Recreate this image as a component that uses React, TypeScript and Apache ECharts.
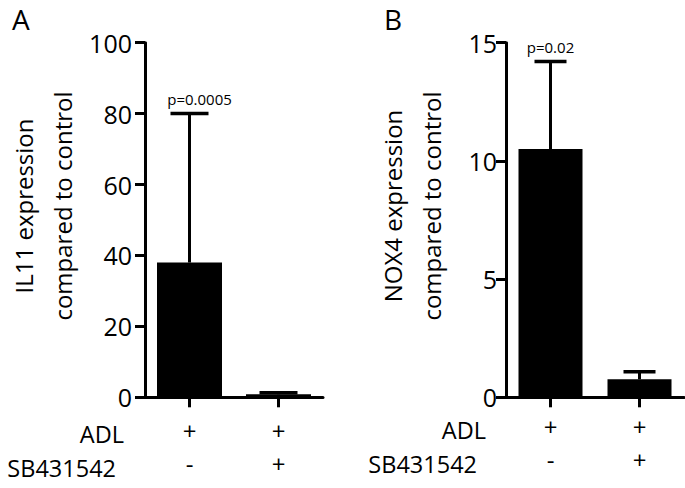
import React, { useEffect, useRef } from "react";
import * as echarts from "echarts";

const categories = ["+\n-", "+\n+"];
const il11Mean = [38, 0.85];
const il11Upper = [80, 1.3];
const il11P = ["p=0.0005", ""];
const nox4Mean = [10.5, 0.76];
const nox4Upper = [14.2, 1.08];
const nox4P = ["p=0.02", ""];

const FONT = "'Open Sans', sans-serif";

function errSeries(xIdx: number, means: number[], uppers: number[], ps: string[], capW: number, pDx: number) {
  return {
    type: "custom",
    xAxisIndex: xIdx,
    yAxisIndex: xIdx,
    z: 5,
    data: means.map((m, i) => [i, m, uppers[i]]),
    renderItem: (params: any, api: any) => {
      const i = api.value(0);
      const base = api.coord([i, api.value(1)]);
      const top = api.coord([i, api.value(2)]);
      const p = ps[params.dataIndex];
      const children: any[] = [
        { type: "line", shape: { x1: base[0], y1: base[1], x2: top[0], y2: top[1] }, style: { stroke: "#000", lineWidth: 3 } },
        { type: "line", shape: { x1: top[0] - capW / 2, y1: top[1], x2: top[0] + capW / 2, y2: top[1] }, style: { stroke: "#000", lineWidth: 3.5 } },
      ];
      if (p) {
        children.push({
          type: "text",
          x: top[0] + pDx,
          y: top[1] - 15,
          style: { text: p, fill: "#000", font: `15px ${FONT}`, align: "center", verticalAlign: "middle" },
        });
      }
      return { type: "group", children };
    },
  };
}

export default function App() {
  const ref = useRef<HTMLDivElement>(null);
  useEffect(() => {
    if (!ref.current) return;
    const chart = echarts.init(ref.current, undefined, { renderer: "svg" });
    const axisLine = { show: true, lineStyle: { color: "#000", width: 3 } };
    const mkY = (idx: number, max: number, interval: number, name: string, gap: number, margin: number) => ({
      type: "value",
      gridIndex: idx,
      min: 0,
      max,
      interval,
      name,
      nameLocation: "middle",
      nameGap: gap,
      nameRotate: 90,
      nameTextStyle: { fontFamily: FONT, fontSize: 24, color: "#000", lineHeight: 39, padding: [0, 0, 0, 28] },
      axisLine,
      axisTick: { show: true, length: 10, lineStyle: { color: "#000", width: 3 } },
      axisLabel: { fontFamily: FONT, fontSize: 25, color: "#000", margin },
      splitLine: { show: false },
    });
    const mkX = (idx: number, margin: number) => ({
      type: "category",
      gridIndex: idx,
      data: categories,
      axisLine,
      axisTick: { show: true, alignWithLabel: true, length: 10, lineStyle: { color: "#000", width: 3 } },
      axisLabel: { fontFamily: FONT, fontSize: 24, color: "#000", margin, lineHeight: 33, verticalAlign: "top" },
    });
    const rowText = (x: number, y: number, text: string) => ({
      type: "text",
      x,
      y,
      style: { text, fill: "#000", font: `23.5px ${FONT}`, align: "right", verticalAlign: "middle" },
    });
    chart.setOption({
      animation: false,
      grid: [
        { left: 145, top: 42.7, width: 178, height: 354.6 },
        { left: 506, top: 42.7, width: 178, height: 354.6 },
      ],
      xAxis: [mkX(0, 17), mkX(1, 13)],
      yAxis: [
        mkY(0, 100, 20, "IL11 expression\ncompared to control", 63, 13),
        mkY(1, 15, 5, "NOX4 expression\ncompared to control", 55, 9),
      ],
      series: [
        { type: "bar", xAxisIndex: 0, yAxisIndex: 0, data: il11Mean, barWidth: 65, itemStyle: { color: "#000" } },
        { type: "bar", xAxisIndex: 1, yAxisIndex: 1, data: nox4Mean, barWidth: 64, itemStyle: { color: "#000" } },
        errSeries(0, il11Mean, il11Upper, il11P, 38, 10),
        errSeries(1, nox4Mean, nox4Upper, nox4P, 32, 0),
      ],
      graphic: [
        { type: "text", x: 12, y: 19, style: { text: "A", fill: "#000", font: `28px ${FONT}`, verticalAlign: "middle" } },
        { type: "text", x: 384, y: 19, style: { text: "B", fill: "#000", font: `28px ${FONT}`, verticalAlign: "middle" } },
        rowText(124, 434, "ADL"),
        rowText(116, 468, "SB431542"),
        rowText(486, 430, "ADL"),
        rowText(477, 464, "SB431542"),
      ],
    });
    return () => chart.dispose();
  }, []);
  return <div ref={ref} style={{ position: "fixed", left: 0, top: 0, width: 685, height: 488, background: "#fff" }} />;
}
